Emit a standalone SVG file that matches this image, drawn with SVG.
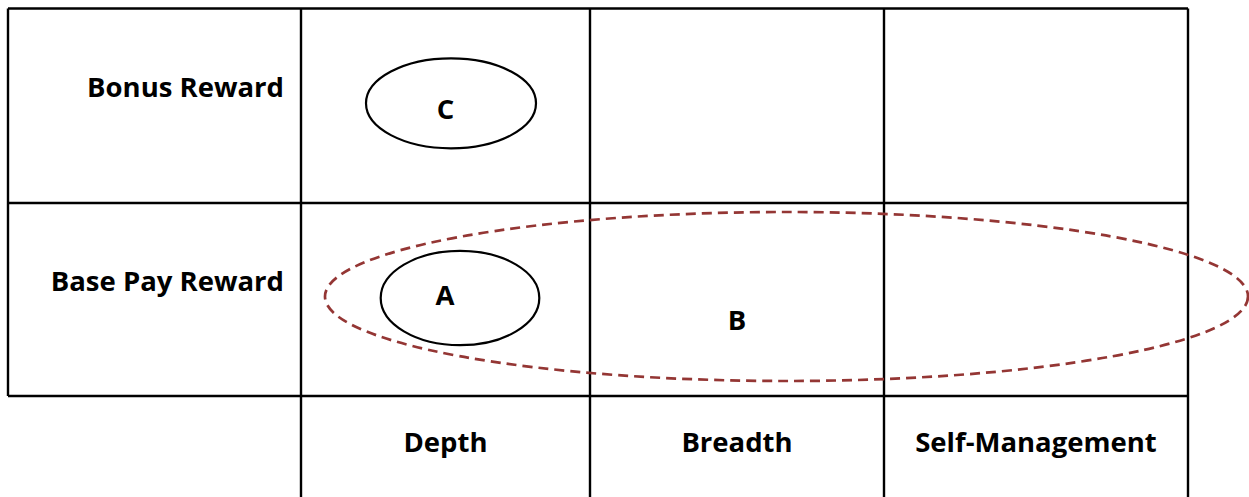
<svg xmlns="http://www.w3.org/2000/svg" width="1249" height="497" viewBox="0 0 1249 497">
  <style>
    .grid { stroke: #000; stroke-width: 2.4; fill: none; }
    .oval { stroke: #000; stroke-width: 2.2; fill: none; }
    .group { stroke: #943634; stroke-width: 2.7; fill: none; stroke-dasharray: 10 6; }
    .lbl { font-family: "Open Sans", "Liberation Sans", sans-serif; font-weight: bold; font-size: 27.5px; fill: #000; }
    .mid { text-anchor: middle; }
    .end { text-anchor: end; }
  </style>
  <rect width="1249" height="497" fill="#fff"/>
  <g id="grid">
    <line class="grid" x1="8" y1="8.5" x2="1188" y2="8.5"/>
    <line class="grid" x1="8" y1="203" x2="1188" y2="203"/>
    <line class="grid" x1="8" y1="396" x2="1188" y2="396"/>
    <line class="grid" x1="8" y1="8.5" x2="8" y2="396"/>
    <line class="grid" x1="301" y1="8.5" x2="301" y2="497"/>
    <line class="grid" x1="590" y1="8.5" x2="590" y2="497"/>
    <line class="grid" x1="884" y1="8.5" x2="884" y2="497"/>
    <line class="grid" x1="1188" y1="8.5" x2="1188" y2="497"/>
  </g>
  <g id="row-labels">
    <text class="lbl end" x="284" y="97">Bonus Reward</text>
    <text class="lbl end" x="284" y="291">Base Pay Reward</text>
  </g>
  <g id="col-labels">
    <text class="lbl mid" x="445.5" y="452">Depth</text>
    <text class="lbl mid" x="737" y="452">Breadth</text>
    <text class="lbl mid" x="1036" y="452">Self-Management</text>
  </g>
  <g id="node-B">
    <ellipse class="group" cx="786.5" cy="296.5" rx="461.5" ry="84.5"/>
    <text class="lbl mid" x="737" y="330">B</text>
  </g>
  <g id="node-C">
    <ellipse class="oval" cx="451" cy="103.3" rx="85" ry="45"/>
    <text class="lbl mid" x="445.5" y="119">C</text>
  </g>
  <g id="node-A">
    <ellipse class="oval" cx="460" cy="298" rx="79.3" ry="47.2"/>
    <text class="lbl mid" x="445" y="305">A</text>
  </g>
  <g id="connectors"></g>
</svg>
